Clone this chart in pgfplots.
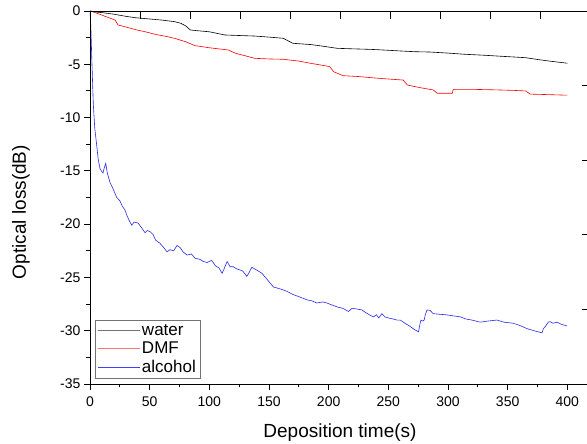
\documentclass[border=0pt]{standalone}
\usepackage{fontspec}
\setmainfont{Liberation Sans}
\usepackage{pgfplots}
\pgfplotsset{compat=1.18}
\definecolor{alc}{HTML}{2A2AE8}

\begin{document}
\begin{tikzpicture}
\begin{axis}[
  name=ax,
  width=500pt, height=373pt, scale only axis,
  xmin=0, xmax=419, ymin=-35, ymax=0,
  xtick={0,50,...,400}, ytick={-35,-30,...,0},
  minor x tick num=1, minor y tick num=1,
  xtick pos=left, ytick pos=left, tick align=outside,
  major tick length=6pt, minor tick length=3.5pt,
  axis line style={line width=0.9pt}, every tick/.style={line width=0.9pt,black},
  /pgf/number format/assume math mode=true,
  ticklabel style={font=\fontsize{14}{16}\selectfont},
  xticklabel style={yshift=-3.5pt},
  xlabel={Deposition time(s)}, ylabel={Optical loss(dB)},
  label style={font=\fontsize{19}{22}\selectfont},
  xlabel style={at={(axis description cs:0.5,-0.131)}, anchor=center},
  ylabel style={at={(axis description cs:-0.138,0.461)}, anchor=center, rotate=0},
  legend style={at={(0.01,0.016)}, anchor=south west, draw=black!55, fill=white,
    font=\fontsize{17}{20}\selectfont, row sep=1pt, inner sep=2pt},
  legend cell align=left,
  legend image code/.code={\draw[#1,line width=0.8pt] (0pt,0pt) -- (42pt,0pt);},
]
\addlegendimage{black!55}
\addlegendentry{water}
\addlegendimage{red!55}
\addlegendentry{DMF}
\addlegendimage{blue!75}
\addlegendentry{alcohol}

% water
\addplot[black, line width=0.6pt, forget plot] coordinates {
(0,0) (5,-0.1) (10,-0.15) (20,-0.3) (30,-0.5) (38,-0.63) (50,-0.75) (60,-0.85)
(71,-1.0) (76,-1.15) (80,-1.38) (84,-1.78) (90,-1.85) (100,-1.95) (113,-2.25)
(125,-2.3) (138,-2.35) (150,-2.45) (162,-2.56) (166,-2.8) (170,-3.03) (185,-3.15)
(195,-3.3) (207,-3.5) (220,-3.55) (235,-3.6) (246,-3.66) (260,-3.75) (272,-3.82)
(285,-3.85) (300,-3.95) (314,-4.06) (330,-4.15) (345,-4.25) (365,-4.38)
(375,-4.55) (385,-4.7) (400,-4.9)};

% DMF
\addplot[red, line width=0.6pt, forget plot] coordinates {
(0,0) (3,-0.1) (8,-0.3) (15,-0.6) (21,-0.84) (23.5,-1.31) (30,-1.5) (40,-1.8)
(46,-1.94) (55,-2.2) (65,-2.41) (72,-2.6) (80,-2.88) (88,-3.25) (100,-3.45)
(116,-3.66) (122,-3.97) (130,-4.2) (138,-4.44) (150,-4.5) (162,-4.53) (175,-4.7)
(184.5,-4.9) (195,-5.1) (201,-5.22) (204,-5.69) (212,-6.07) (225,-6.15) (240,-6.3)
(262.5,-6.48) (266,-6.95) (277,-7.2) (287.6,-7.41) (291,-7.72) (303.6,-7.72)
(304.4,-7.35) (320,-7.35) (340,-7.4) (355,-7.45) (365,-7.5) (369,-7.8)
(385,-7.85) (400,-7.9)};

% alcohol
\addplot[alc, line width=0.6pt, forget plot] coordinates {
(0,0) (0.7,-1.5) (1.4,-4.1) (2.1,-6.5) (2.8,-8.8) (4,-11) (5.6,-12.6) (7,-14)
(8.4,-14.8) (9.5,-15.0) (10.9,-15.2) (12,-14.7) (13.2,-14.3) (14.5,-15.2)
(16.8,-16.1) (19,-16.6) (22.4,-17.5) (25,-17.8) (27,-18.3) (29.4,-18.7) (31,-19.2)
(33,-19.7) (35,-20.1) (37,-19.8) (40.3,-19.9) (43,-20.3) (46.1,-20.8) (48,-20.6)
(50.3,-20.7) (53,-21.0) (55,-21.5) (58.7,-21.8) (61,-22.1) (64.6,-22.6) (67,-22.4)
(70,-22.5) (73,-22.0) (75.5,-22.2) (78,-22.6) (81.3,-22.9) (85,-22.8) (88,-23.2)
(92,-23.3) (95,-23.5) (98.1,-23.6) (102,-23.4) (105,-23.9) (108,-24.1) (110.7,-24.6)
(112,-24.3) (114.9,-23.5) (117.4,-24.0) (120,-24.0) (123,-24.2) (125.8,-24.3)
(128,-24.4) (131.4,-24.9) (133,-24.6) (135.6,-24.05) (138,-24.2) (141,-24.4)
(144,-24.6) (147,-25.0) (150,-25.4) (153.7,-25.9) (157,-26.0) (160,-26.1)
(165,-26.3) (170,-26.6) (175,-26.8) (181.7,-27.1) (186,-27.2) (190,-27.4)
(195,-27.3) (198.5,-27.4) (203,-27.6) (208,-27.8) (212,-27.9) (216.6,-28.2)
(219.5,-27.9) (223,-27.95) (227.8,-28.05) (231,-28.3) (234,-28.5) (237.6,-28.7)
(240,-28.5) (242,-28.8) (244.6,-28.4) (247,-28.7) (250,-28.8) (254,-28.9)
(257.2,-29.0) (260,-29.0) (264,-29.3) (268.3,-29.6) (272,-29.9) (275.3,-30.1)
(276.5,-29.4) (277.3,-29.0) (279,-29.1) (280,-29.0) (281,-28.5) (282.4,-28.05)
(285,-28.1) (287.6,-28.4) (292,-28.45) (298,-28.5) (304,-28.6) (310.3,-28.7)
(315,-28.9) (320,-29.0) (327,-29.2) (333,-29.1) (341,-29.0) (347,-29.2)
(354.7,-29.3) (360,-29.5) (366.2,-29.8) (372,-30.0) (378.8,-30.2) (380,-29.8)
(381.6,-29.6) (384,-29.2) (385.7,-29.15) (388,-29.3) (391.4,-29.2) (395,-29.4)
(399.7,-29.55)};
\end{axis}

% mirrored top/right axes with their own inward ticks
\begin{axis}[
  width=500pt, height=373pt, scale only axis,
  xmin=0, xmax=10, ymin=0, ymax=5,
  xtick={1,...,9}, ytick={1,...,4},
  xtick pos=right, ytick pos=right, tick align=inside,
  xticklabels={}, yticklabels={},
  major tick length=8pt,
  axis line style={line width=0.9pt}, every tick/.style={line width=0.9pt,black},
]
\addplot[draw=none] coordinates {(0,0)};
\end{axis}

% page frame as in the reference: right spine falls just outside
\pgfresetboundingbox
\path ([xshift=-90pt,yshift=-60pt]ax.south west) rectangle ([xshift=497pt,yshift=384pt]ax.south west);
\end{tikzpicture}
\end{document}
